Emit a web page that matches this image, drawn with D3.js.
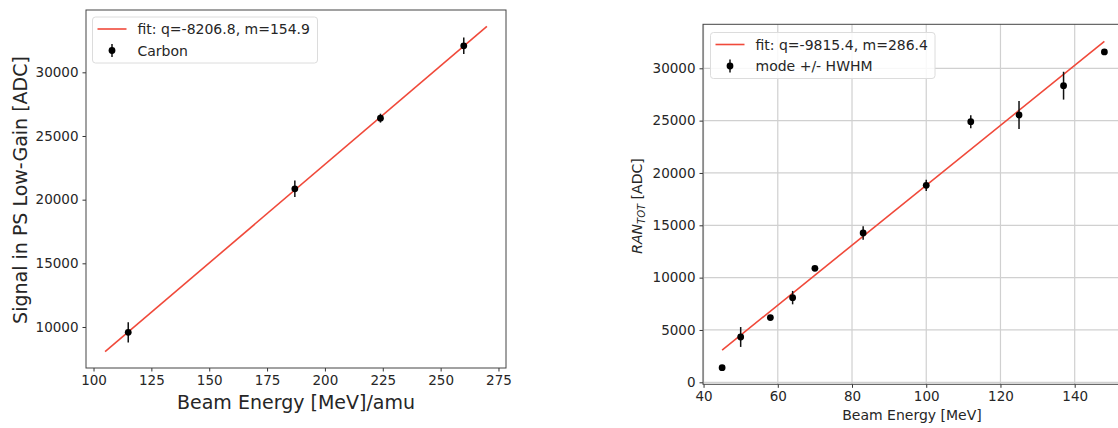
<html>
<head>
<script src="https://d3js.org/d3.v7.min.js"></script>
<style>
  body { margin: 0; background: #fff; }
  svg text { font-family: "DejaVu Sans", sans-serif; fill: #262626; }
</style>
</head>
<body>
<div id="chart"></div>
<script>
// left panel: Carbon, PS low-gain
var leftEnergy = [115, 187, 224, 260]
var leftSignal = [9580, 20850, 26400, 32080]
var leftErr = [800, 650, 350, 650]
var leftFitX = [105, 270]
var leftFit = { q: -8206.8, m: 154.9 }
var leftXTicks = [100, 125, 150, 175, 200, 225, 250, 275]
var leftYTicks = [10000, 15000, 20000, 25000, 30000]

// right panel: RAN_TOT mode +/- HWHM
var rightEnergy = [45, 50, 58, 64, 70, 83, 100, 112, 125, 137, 148]
var rightMode = [1400, 4330, 6180, 8090, 10890, 14270, 18820, 24900, 25540, 28340, 31560]
var rightHwhm = [100, 950, 150, 640, 150, 640, 540, 620, 1330, 1330, 150]
var rightFitX = [45, 148]
var rightFit = { q: -9815.4, m: 286.4 }
var rightXTicks = [40, 60, 80, 100, 120, 140]
var rightYTicks = [0, 5000, 10000, 15000, 20000, 25000, 30000]

var red = '#f0493a'

var svg = d3.select('#chart').append('svg')
  .attr('width', 1118)
  .attr('height', 428)

function panel(o) {
  var x = d3.scaleLinear().domain(o.xDom).range([o.left, o.right])
  var y = d3.scaleLinear().domain(o.yDom).range([o.bottom, o.top])
  var g = svg.append('g')

  if (o.grid) {
    g.selectAll('.gx').data(o.xTicks).enter().append('line')
      .attr('x1', d => x(d)).attr('x2', d => x(d))
      .attr('y1', o.top).attr('y2', o.bottom)
      .attr('stroke', '#d0d0d0').attr('stroke-width', 1.2)
    g.selectAll('.gy').data(o.yTicks).enter().append('line')
      .attr('x1', o.left).attr('x2', o.right)
      .attr('y1', d => y(d)).attr('y2', d => y(d))
      .attr('stroke', '#d0d0d0').attr('stroke-width', 1.2)
  }

  var xAxis = g.append('g')
    .attr('transform', 'translate(0,' + o.bottom + ')')
    .call(d3.axisBottom(x).tickValues(o.xTicks).tickSize(3.5).tickPadding(4).tickFormat(d3.format('d')))
  var yAxis = g.append('g')
    .attr('transform', 'translate(' + o.left + ',0)')
    .call(d3.axisLeft(y).tickValues(o.yTicks).tickSize(3.5).tickPadding(4).tickFormat(d3.format('d')))
  ;[xAxis, yAxis].forEach(function(a) {
    a.select('.domain').remove()
    a.selectAll('line').attr('stroke', '#333')
    a.selectAll('text').style('font-size', '13.5px').attr('fill', '#262626')
  })

  // fit line
  g.append('path')
    .datum(o.fitX)
    .attr('d', d3.line().x(d => x(d)).y(d => y(o.fit.q + o.fit.m * d)))
    .attr('stroke', red).attr('stroke-width', 1.6).attr('fill', 'none')

  // error bars + points
  var pts = o.xs.map((d, i) => ({ x: d, y: o.ys[i], e: o.es[i] }))
  g.selectAll('.eb').data(pts).enter().append('line')
    .attr('x1', d => x(d.x)).attr('x2', d => x(d.x))
    .attr('y1', d => y(d.y - d.e)).attr('y2', d => y(d.y + d.e))
    .attr('stroke', '#111').attr('stroke-width', 1.5)
  g.selectAll('.pt').data(pts).enter().append('circle')
    .attr('cx', d => x(d.x)).attr('cy', d => y(d.y)).attr('r', 3.4)
    .attr('fill', '#000')

  // frame
  g.append('rect')
    .attr('x', o.left).attr('y', o.top)
    .attr('width', o.right - o.left).attr('height', o.bottom - o.top)
    .attr('fill', 'none').attr('stroke', '#444').attr('stroke-width', 1)

  // legend
  var L = o.legend
  var lg = g.append('g')
  lg.append('rect')
    .attr('x', L.x).attr('y', L.y).attr('width', L.w).attr('height', 46)
    .attr('rx', 3).attr('fill', '#fff').attr('fill-opacity', 0.85)
    .attr('stroke', '#dcdcdc')
  lg.append('line')
    .attr('x1', L.x + 5).attr('x2', L.x + 34).attr('y1', L.y + 12).attr('y2', L.y + 12)
    .attr('stroke', red).attr('stroke-width', 1.6)
  lg.append('line')
    .attr('x1', L.x + 19.5).attr('x2', L.x + 19.5).attr('y1', L.y + 27).attr('y2', L.y + 40)
    .attr('stroke', '#111').attr('stroke-width', 1.5)
  lg.append('circle').attr('cx', L.x + 19.5).attr('cy', L.y + 33.5).attr('r', 3.4).attr('fill', '#000')
  lg.append('text').attr('x', L.x + 45).attr('y', L.y + 17)
    .style('font-size', '14px').text('fit: q=' + o.fit.q + ', m=' + o.fit.m)
  lg.append('text').attr('x', L.x + 45).attr('y', L.y + 38.5)
    .style('font-size', '14px').text(o.label)

  return { x: x, y: y, g: g }
}

panel({
  left: 86, right: 506, top: 10, bottom: 368,
  xDom: [96.75, 278.25], yDom: [6780, 34894],
  xTicks: leftXTicks, yTicks: leftYTicks,
  xs: leftEnergy, ys: leftSignal, es: leftErr,
  fitX: leftFitX, fit: leftFit, label: 'Carbon',
  legend: { x: 92.5, y: 17, w: 225 }
})

svg.append('text')
  .attr('x', 296).attr('y', 409)
  .attr('text-anchor', 'middle')
  .style('font-size', '19px')
  .text('Beam Energy [MeV]/amu')
svg.append('text')
  .attr('transform', 'translate(27,190) rotate(-90)')
  .attr('text-anchor', 'middle')
  .style('font-size', '19px')
  .text('Signal in PS Low-Gain [ADC]')

panel({
  left: 703, right: 1123.5, top: 24.3, bottom: 384.3,
  xDom: [39.85, 153.15], yDom: [-191, 34204],
  xTicks: rightXTicks, yTicks: rightYTicks, grid: true,
  xs: rightEnergy, ys: rightMode, es: rightHwhm,
  fitX: rightFitX, fit: rightFit, label: 'mode +/- HWHM',
  legend: { x: 710.5, y: 32.5, w: 224.5 }
})

svg.append('text')
  .attr('x', 912).attr('y', 420)
  .attr('text-anchor', 'middle')
  .style('font-size', '14px')
  .text('Beam Energy [MeV]')
var yl = svg.append('text')
  .attr('transform', 'translate(642,206) rotate(-90)')
  .attr('text-anchor', 'middle')
  .style('font-size', '14px')
yl.append('tspan').style('font-style', 'italic').text('RAN')
yl.append('tspan').style('font-style', 'italic').style('font-size', '10px').attr('dy', 3).text('TOT')
yl.append('tspan').attr('dy', -3).text(' [ADC]')
</script>
</body>
</html>
